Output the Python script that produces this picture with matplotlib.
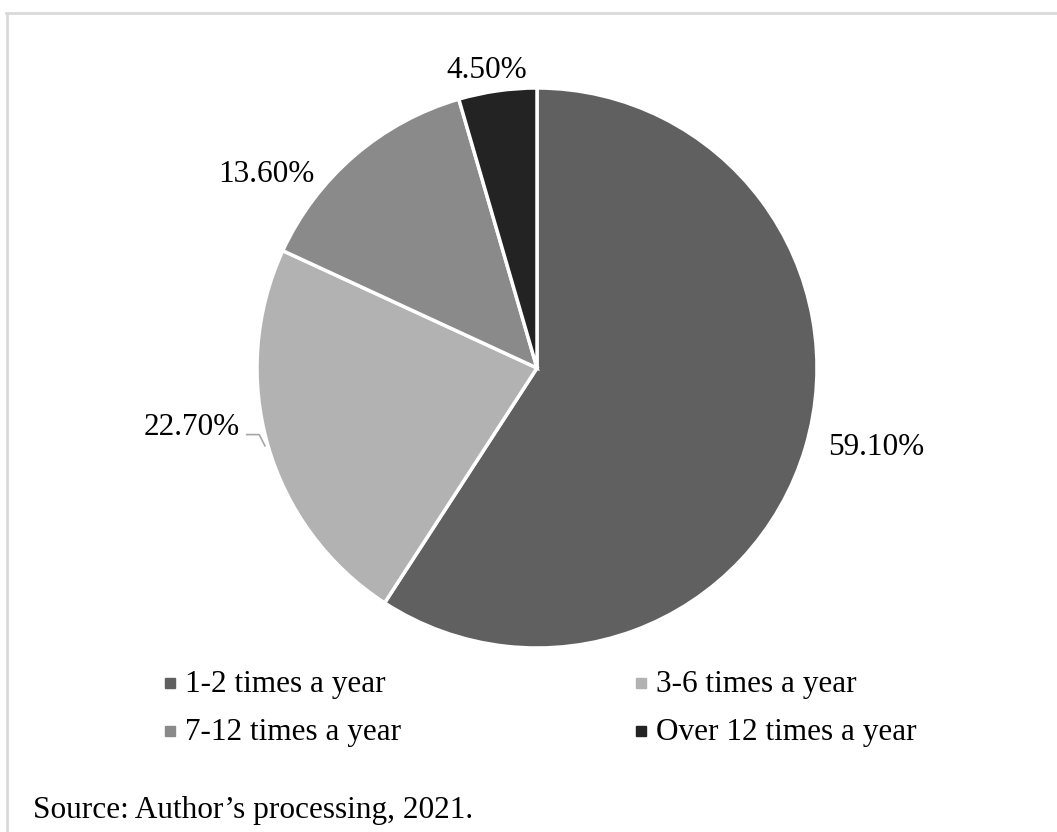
import numpy as np
import matplotlib.pyplot as plt
from matplotlib.lines import Line2D

plt.rcParams['font.family'] = ['Liberation Serif', 'DejaVu Serif']

# data
categories = ['1-2 times a year', '3-6 times a year', '7-12 times a year', 'Over 12 times a year']
shares = [59.10, 22.70, 13.60, 4.50]
colors = ['#606060', '#b2b2b2', '#8a8a8a', '#232323']

# label anchor per slice: (radius factor, angle offset from mid-angle, horizontal alignment)
label_pos = [(1.085, -0.2, 'left'), (1.088, -3.5, 'right'),
             (1.173, 14.7, 'center'), (1.051, 1.7, 'center')]

W, H = 1057, 832
FS = 22.5
fig = plt.figure(figsize=(W / 100, H / 100), dpi=100)

# outer frame (top and left edges visible)
fig.add_artist(Line2D([6 / W, 1.0], [1 - 12.5 / H, 1 - 12.5 / H], color='#d9d9d9', lw=2))
fig.add_artist(Line2D([7 / W, 7 / W], [0, 1 - 12.5 / H], color='#d9d9d9', lw=2))

cx, cy, r = 537, 368, 280
ax = fig.add_axes([(cx - r) / W, (H - cy - r) / H, 2 * r / W, 2 * r / H])
wedges, _ = ax.pie(shares, colors=colors, startangle=90, counterclock=False,
                   radius=1.0, wedgeprops=dict(edgecolor='white', linewidth=2.5))
ax.set_xlim(-1, 1)
ax.set_ylim(-1, 1)
ax.set_aspect('equal')
ax.axis('off')

for i, w in enumerate(wedges):
    mid = (w.theta1 + w.theta2) / 2
    dist, off, ha = label_pos[i]
    a = np.deg2rad(mid + off)
    tx, ty = dist * np.cos(a), dist * np.sin(a)
    ax.text(tx, ty, f'{shares[i]:.2f}%', ha=ha, va='baseline', fontsize=FS, clip_on=False)
    if i == 1:
        # leader line for the 3-6 slice
        am = np.deg2rad(mid)
        ex, ey = 1.01 * np.cos(am), 1.01 * np.sin(am)
        ax.plot([tx + 0.022, ex - 0.022, ex], [ty, ty, ey],
                color='#a6a6a6', lw=1.2, clip_on=False, solid_capstyle='butt')

# legend, two rows of two entries
leg_x = [(185, 170), (656, 641)]   # (text x, marker x) per column, px
leg_y = [692, 740]                  # baselines, px
order = [[0, 1], [2, 3]]
for row, items in enumerate(order):
    for col, k in enumerate(items):
        tx, mx = leg_x[col]
        y = 1 - leg_y[row] / H
        fig.add_artist(Line2D([mx / W], [y + 9 / H], marker='s', markersize=7.5,
                              linestyle='none', color=colors[k]))
        fig.text(tx / W, y, categories[k], fontsize=FS, ha='left', va='baseline')

fig.text(33 / W, 1 - 818 / H, 'Source: Author\u2019s processing, 2021.', fontsize=FS,
         ha='left', va='baseline')

fig.savefig('out.png', dpi=100)
